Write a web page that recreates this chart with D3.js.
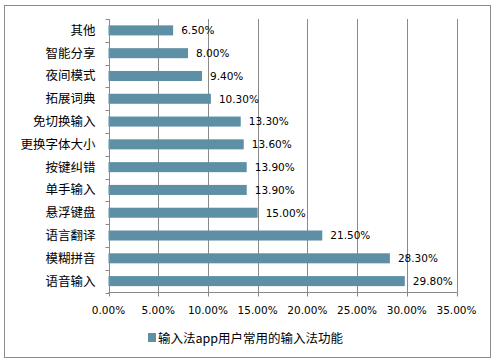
<!DOCTYPE html>
<html><head><meta charset="utf-8">
<script src="https://cdn.jsdelivr.net/npm/d3@7"></script>
<style>
body{margin:0;background:#fff;}
svg{display:block;}
</style></head>
<body>
<svg id="c" width="495" height="364"></svg>
<script>
const categories = ["其他","智能分享","夜间模式","拓展词典","免切换输入","更换字体大小","按键纠错","单手输入","悬浮键盘","语言翻译","模糊拼音","语音输入"];
const values = [6.5, 8.0, 9.4, 10.3, 13.3, 13.6, 13.9, 13.9, 15.0, 21.5, 28.3, 29.8];
const xTicks = [0, 5, 10, 15, 20, 25, 30, 35];
const seriesName = "输入法app用户常用的输入法功能";

const svg = d3.select("#c");
const cjk = "'Noto Sans CJK SC', sans-serif";
const num = "'DejaVu Sans', sans-serif";
const barColor = "#5d8fa5";
const gridColor = "#898989";

svg.append("rect").attr("x",4.5).attr("y",5.5).attr("width",486).attr("height",352)
  .attr("fill","#fff").attr("stroke","#8c8c8c").attr("stroke-width",1);

const x = d3.scaleLinear().domain([0,35]).range([108.5,456.5]);
const y = d3.scaleBand().domain(categories).range([19,292.5]).paddingInner(0.56).paddingOuter(0.28);
const band = d3.scaleBand().domain(categories).range([19,292.5]);

// gridlines
svg.append("g").selectAll("line").data(xTicks.slice(1)).join("line")
  .attr("x1",d=>Math.round(x(d))+0.5).attr("x2",d=>Math.round(x(d))+0.5)
  .attr("y1",19).attr("y2",292.5).attr("stroke",gridColor).attr("stroke-width",1);

// bars
svg.append("g").selectAll("rect").data(values).join("rect")
  .attr("x",x(0)).attr("y",(d,i)=>y(categories[i]))
  .attr("width",d=>x(d)-x(0)).attr("height",y.bandwidth())
  .attr("fill",barColor);

// value labels
svg.append("g").selectAll("text").data(values).join("text")
  .attr("x",d=>x(d)+8).attr("y",(d,i)=>y(categories[i])+y.bandwidth()/2)
  .attr("dy","0.36em").attr("font-family",num).attr("font-size",10.5).attr("fill","#000")
  .text(d=>d.toFixed(2)+"%");

// y axis
const ya = svg.append("g").attr("transform",`translate(${Math.round(x(0))+0.5},0)`);
ya.append("line").attr("y1",19).attr("y2",292.5).attr("stroke",gridColor);
const bounds = categories.map(c=>band(c)).concat([292.5]);
ya.selectAll("line.t").data(bounds).join("line").attr("class","t")
  .attr("x1",-4).attr("x2",0).attr("y1",d=>Math.round(d)+0.5).attr("y2",d=>Math.round(d)+0.5).attr("stroke",gridColor);
ya.selectAll("text").data(categories).join("text")
  .attr("x",-14).attr("y",d=>y(d)+y.bandwidth()/2).attr("dy","0.36em")
  .attr("text-anchor","end").attr("font-family",cjk).attr("font-size",12.5).attr("fill","#000")
  .text(d=>d);

// x axis
const xa = svg.append("g").attr("transform","translate(0,292.5)");
xa.append("line").attr("x1",x(0)).attr("x2",x(35)+0.5).attr("stroke",gridColor);
xa.selectAll("line.t").data(xTicks).join("line").attr("class","t")
  .attr("x1",d=>Math.round(x(d))+0.5).attr("x2",d=>Math.round(x(d))+0.5).attr("y1",0).attr("y2",4).attr("stroke",gridColor);
xa.selectAll("text").data(xTicks).join("text")
  .attr("x",d=>x(d)).attr("y",18).attr("dy","0.36em").attr("text-anchor","middle")
  .attr("font-family",num).attr("font-size",10.5).attr("fill","#000")
  .text(d=>d.toFixed(2)+"%");

// legend
const lg = svg.append("g");
lg.append("rect").attr("x",148).attr("y",333).attr("width",8).attr("height",9).attr("fill",barColor);
lg.append("text").attr("x",158).attr("y",338).attr("dy","0.36em").attr("font-family",cjk)
  .attr("font-size",12.5).attr("fill","#000").text(seriesName);
</script>
</body></html>
